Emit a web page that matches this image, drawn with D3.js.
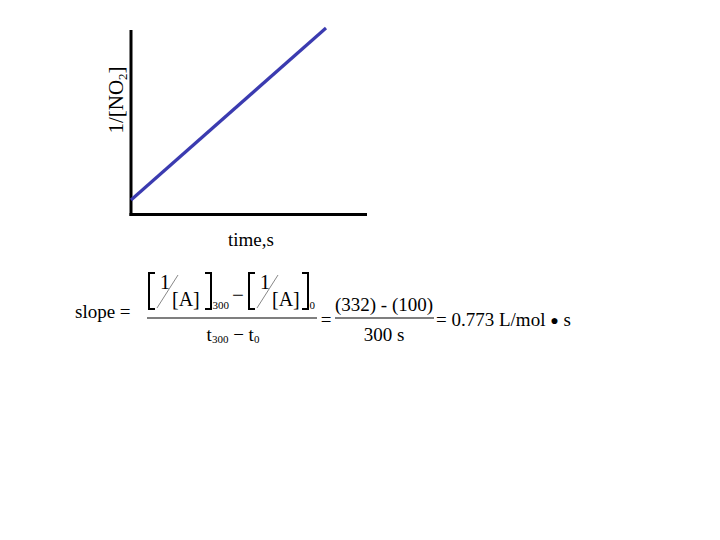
<!DOCTYPE html>
<html>
<head>
<meta charset="utf-8">
<script src="https://cdn.jsdelivr.net/npm/d3@7"></script>
<style>
  html, body { margin: 0; padding: 0; background: #fff; }
  svg text { font-family: "Liberation Serif", "Times New Roman", serif; fill: #000; }
</style>
</head>
<body>
<svg id="chart" width="720" height="540"></svg>
<script>
// ---- data ----
const times = [0, 300];            // s
const inverseNO2 = [100, 332];     // 1/[NO2], L/mol
const xAxisLabel = "time,s";
const yAxisLabel = ["1/[NO", "2", "]"];
const slopeNumerator = "(332) - (100)";
const slopeDenominator = "300 s";
const slopeResult = "= 0.773 L/mol";

const svg = d3.select("#chart");

// ---- scales ----
const x = d3.scaleLinear().domain([0, 300]).range([131, 326]);
const y = d3.scaleLinear().domain([100, 332]).range([200, 28]);

// ---- axes (plain lines, no ticks) ----
const axisColor = "#000";
svg.append("line").attr("x1", 131).attr("x2", 131).attr("y1", 30).attr("y2", 216)
  .attr("stroke", axisColor).attr("stroke-width", 3);
svg.append("line").attr("x1", 129.5).attr("x2", 367).attr("y1", 214.5).attr("y2", 214.5)
  .attr("stroke", axisColor).attr("stroke-width", 3);

// ---- line ----
const pts = times.map((t, i) => [t, inverseNO2[i]]);
svg.append("path")
  .datum(pts)
  .attr("fill", "none")
  .attr("stroke", "#3b3bb0")
  .attr("stroke-width", 3.2)
  .attr("d", d3.line().x(d => x(d[0])).y(d => y(d[1])));

// ---- axis labels ----
svg.append("text")
  .attr("x", 251).attr("y", 246)
  .attr("text-anchor", "middle")
  .attr("font-size", 19)
  .text(xAxisLabel);

const yl = svg.append("text")
  .attr("transform", "translate(123,100) rotate(-90)")
  .attr("text-anchor", "middle")
  .attr("font-size", 21);
yl.append("tspan").text(yAxisLabel[0]);
yl.append("tspan").attr("font-size", 13).attr("dy", 4).text(yAxisLabel[1]);
yl.append("tspan").attr("dy", -4).text(yAxisLabel[2]);

// ---- slope formula ----
const g = svg.append("g");
g.append("text").attr("x", 75).attr("y", 318).attr("font-size", 19).text("slope =");

function bracketTerm(x0, xr, sub) {
  const top = 273, bot = 309, w = 6;
  g.append("path")
    .attr("d", `M${x0 + w},${top} H${x0} V${bot} H${x0 + w}`)
    .attr("fill", "none").attr("stroke", "#000").attr("stroke-width", 2);
  g.append("path")
    .attr("d", `M${xr - w},${top} H${xr} V${bot} H${xr - w}`)
    .attr("fill", "none").attr("stroke", "#000").attr("stroke-width", 2);
  g.append("text").attr("x", x0 + 11).attr("y", 289).attr("font-size", 20).text("1");
  g.append("line").attr("x1", x0 + 8).attr("y1", 308).attr("x2", x0 + 29).attr("y2", 275)
    .attr("stroke", "#888").attr("stroke-width", 1);
  g.append("text").attr("x", x0 + 23).attr("y", 306).attr("font-size", 20).text("[A]");
  g.append("text").attr("x", xr + 1.5).attr("y", 309).attr("font-size", 11).text(sub);
}
bracketTerm(149, 211, "300");
bracketTerm(249, 308, "0");
g.append("text").attr("x", 238).attr("y", 302).attr("text-anchor", "middle")
  .attr("font-size", 21).text("\u2212");

// fraction bars
g.append("line").attr("x1", 147).attr("x2", 317).attr("y1", 318).attr("y2", 318)
  .attr("stroke", "#000").attr("stroke-width", 1.2);
const den = g.append("text").attr("x", 233).attr("y", 341).attr("text-anchor", "middle")
  .attr("font-size", 19);
den.append("tspan").text("t");
den.append("tspan").attr("font-size", 11).attr("dy", 2).text("300");
den.append("tspan").attr("dy", -2).text(" \u2212 t");
den.append("tspan").attr("font-size", 11).attr("dy", 2).text("0");

g.append("text").attr("x", 326).attr("y", 326).attr("text-anchor", "middle")
  .attr("font-size", 19).text("=");
g.append("line").attr("x1", 335).attr("x2", 434).attr("y1", 318).attr("y2", 318)
  .attr("stroke", "#000").attr("stroke-width", 1.2);
g.append("text").attr("x", 384).attr("y", 311).attr("text-anchor", "middle")
  .attr("font-size", 19).text(slopeNumerator);
g.append("text").attr("x", 384).attr("y", 341).attr("text-anchor", "middle")
  .attr("font-size", 19).text(slopeDenominator);
const res = g.append("text").attr("x", 436).attr("y", 326).attr("font-size", 19);
res.append("tspan").text(slopeResult + " ");
res.append("tspan").attr("font-size", 14).attr("dy", -1).text("\u25CF");
res.append("tspan").attr("dy", 1).text(" s");
</script>
</body>
</html>
